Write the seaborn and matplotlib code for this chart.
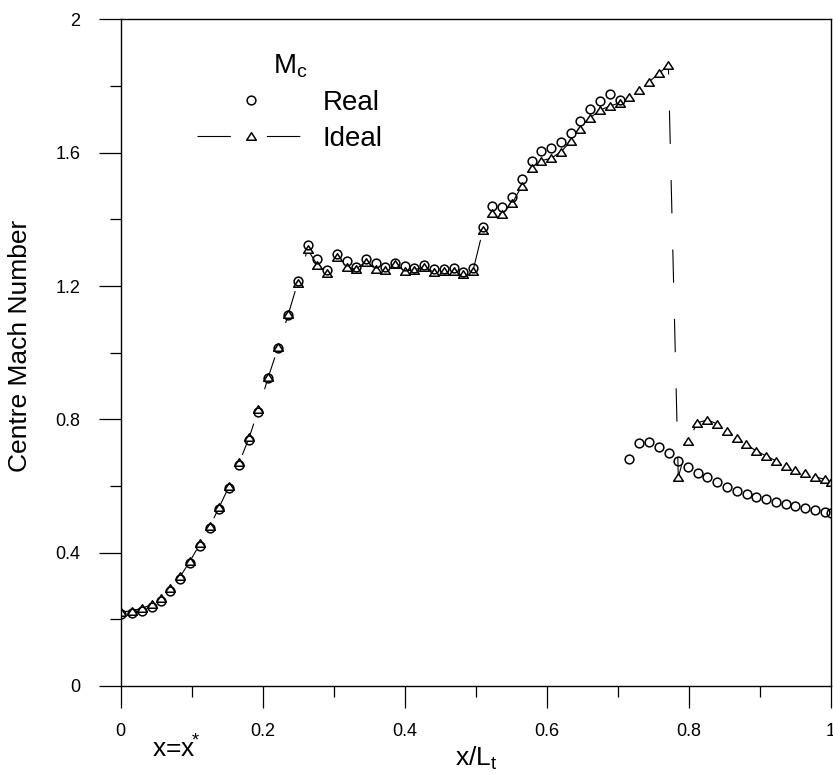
import matplotlib
matplotlib.use("Agg")
import matplotlib.pyplot as plt
import seaborn as sns
from matplotlib.lines import Line2D
from matplotlib.path import Path
from matplotlib.ticker import MultipleLocator

# centre Mach number along the nozzle
real_x = [0.001, 0.016, 0.030, 0.044, 0.057, 0.070, 0.084, 0.098, 0.112, 0.126,
          0.139, 0.153, 0.167, 0.181, 0.194,
          0.208, 0.222, 0.236, 0.249, 0.263, 0.277, 0.290, 0.304, 0.318, 0.331,
          0.345, 0.359, 0.372, 0.386, 0.400, 0.413, 0.427, 0.441, 0.455, 0.469,
          0.482, 0.496,
          0.510, 0.523, 0.537, 0.551, 0.565, 0.579, 0.592, 0.606, 0.620, 0.634,
          0.647, 0.661, 0.675, 0.689, 0.703,
          0.716, 0.730, 0.744, 0.758, 0.772, 0.785, 0.799, 0.813, 0.826, 0.839,
          0.854, 0.868, 0.882, 0.895, 0.909, 0.923, 0.937, 0.950, 0.964, 0.978,
          0.992, 1.000]
real_m = [0.215, 0.218, 0.225, 0.236, 0.256, 0.285, 0.321, 0.368, 0.420, 0.473,
          0.530, 0.593, 0.663, 0.738, 0.823,
          0.923, 1.013, 1.113, 1.216, 1.323, 1.280, 1.248, 1.296, 1.276, 1.256,
          1.280, 1.268, 1.256, 1.270, 1.260, 1.253, 1.263, 1.250, 1.250, 1.253,
          1.243, 1.253,
          1.378, 1.440, 1.438, 1.468, 1.520, 1.576, 1.606, 1.615, 1.631, 1.660,
          1.695, 1.730, 1.756, 1.775, 1.757,
          0.680, 0.728, 0.733, 0.716, 0.698, 0.676, 0.656, 0.640, 0.626, 0.611,
          0.596, 0.585, 0.575, 0.568, 0.561, 0.553, 0.545, 0.540, 0.535, 0.528,
          0.523, 0.518]

ideal_x = [0.001, 0.016, 0.030, 0.044, 0.057, 0.070, 0.084, 0.098, 0.112, 0.126,
           0.139, 0.153, 0.167, 0.181, 0.194,
           0.208, 0.222, 0.236, 0.249, 0.263, 0.277, 0.290, 0.304, 0.318, 0.331,
           0.345, 0.359, 0.372, 0.386, 0.400, 0.413, 0.427, 0.441, 0.455, 0.469,
           0.482, 0.496,
           0.510, 0.523, 0.537, 0.551, 0.565, 0.579, 0.592, 0.606, 0.620, 0.634,
           0.647, 0.661, 0.675, 0.689, 0.703, 0.716, 0.730, 0.744, 0.758, 0.771,
           0.785, 0.799, 0.812, 0.826, 0.839, 0.854, 0.868, 0.881, 0.894, 0.909,
           0.923, 0.937, 0.950, 0.964, 0.977, 0.991, 1.000]
ideal_m = [0.222, 0.226, 0.233, 0.245, 0.264, 0.293, 0.329, 0.376, 0.428, 0.481,
           0.538, 0.601, 0.671, 0.746, 0.831,
           0.928, 1.018, 1.116, 1.208, 1.310, 1.263, 1.240, 1.288, 1.258, 1.250,
           1.273, 1.251, 1.248, 1.265, 1.245, 1.248, 1.258, 1.241, 1.246, 1.246,
           1.235, 1.246,
           1.368, 1.418, 1.416, 1.448, 1.501, 1.555, 1.576, 1.583, 1.603, 1.635,
           1.670, 1.705, 1.728, 1.740, 1.750, 1.766, 1.788, 1.813, 1.838, 1.863,
           0.626, 0.736, 0.790, 0.798, 0.787, 0.766, 0.743, 0.725, 0.706, 0.690,
           0.675, 0.661, 0.648, 0.638, 0.628, 0.620, 0.612]

x_ticks = [0, 0.2, 0.4, 0.6, 0.8, 1.0]
x_tick_labels = ["0", "0.2", "0.4", "0.6", "0.8", "1"]
y_ticks = [0, 0.4, 0.8, 1.2, 1.6, 2.0]
y_tick_labels = ["0", "0.4", "0.8", "1.2", "1.6", "2"]

sns.set_theme(style="ticks")
plt.rcParams["font.family"] = ["Liberation Sans", "DejaVu Sans"]
plt.rcParams["mathtext.fontset"] = "custom"
plt.rcParams["mathtext.rm"] = "Liberation Sans"
plt.rcParams["mathtext.it"] = "Liberation Sans:italic"
plt.rcParams["mathtext.default"] = "regular"
plt.rcParams["lines.scale_dashes"] = False
plt.rcParams["text.color"] = "black"
plt.rcParams["axes.labelcolor"] = "black"

fig = plt.figure(figsize=(8.33, 7.74), dpi=100)
ax = fig.add_axes([0.1449, 0.1137, 0.8527, 0.8613])

# flat-ish open triangle like the original
tri = Path([(-1, -0.77), (1, -0.77), (0, 0.77), (-1, -0.77)], closed=True)
dash = (0, (24, 26))

sns.lineplot(x=ideal_x, y=ideal_m, ax=ax, sort=False, estimator=None,
             color="black", linewidth=0.8, linestyle=dash,
             marker=tri, markersize=7, markerfacecolor="white",
             markeredgecolor="black", markeredgewidth=1.1)
sns.lineplot(x=real_x, y=real_m, ax=ax, sort=False, estimator=None,
             color="black", linestyle="none",
             marker="o", markersize=6.3, markerfacecolor="none",
             markeredgecolor="black", markeredgewidth=1.1)

ax.set_xlim(0, 1)
ax.set_ylim(0, 2)
ax.set_xticks(x_ticks, x_tick_labels)
ax.set_yticks(y_ticks, y_tick_labels)
ax.xaxis.set_minor_locator(MultipleLocator(0.1))
ax.yaxis.set_minor_locator(MultipleLocator(0.2))
ax.tick_params(which="major", length=16, width=0.9, direction="out",
               color="black", labelcolor="black", labelsize=13)
ax.tick_params(which="minor", length=8, width=0.9, direction="out", color="black")
ax.tick_params(axis="x", pad=11)
ax.tick_params(axis="y", pad=13)
for s in ax.spines.values():
    s.set_linewidth(1.0)
    s.set_color("black")

ax.set_ylabel("Centre Mach Number", fontsize=19)
ax.yaxis.set_label_coords(-0.125, 0.51)
ax.set_xlabel("x/L$_t$", fontsize=19)
ax.xaxis.set_label_coords(0.5, -0.088)
ax.text(0.078, -0.108, r"x=$x^{\!\!*}$", transform=ax.transAxes, ha="center",
        va="baseline", fontsize=19)

h_real = Line2D([], [], linestyle="none", marker="o", markersize=6.3,
                markerfacecolor="none", markeredgecolor="black", markeredgewidth=1.1)
h_ideal = Line2D([], [], color="black", linewidth=0.8, linestyle=dash,
                 marker=tri, markersize=7, markerfacecolor="white",
                 markeredgecolor="black", markeredgewidth=1.1)
ax.legend([h_real, h_ideal], ["Real", "Ideal"], title="M$_c$",
          loc="upper left", bbox_to_anchor=(0.1075, 0.95), frameon=False,
          fontsize=20, title_fontsize=20, handlelength=3.85, handletextpad=0.68,
          labelspacing=0.36, borderpad=0, borderaxespad=0)

fig.savefig("out.png", dpi=100)
